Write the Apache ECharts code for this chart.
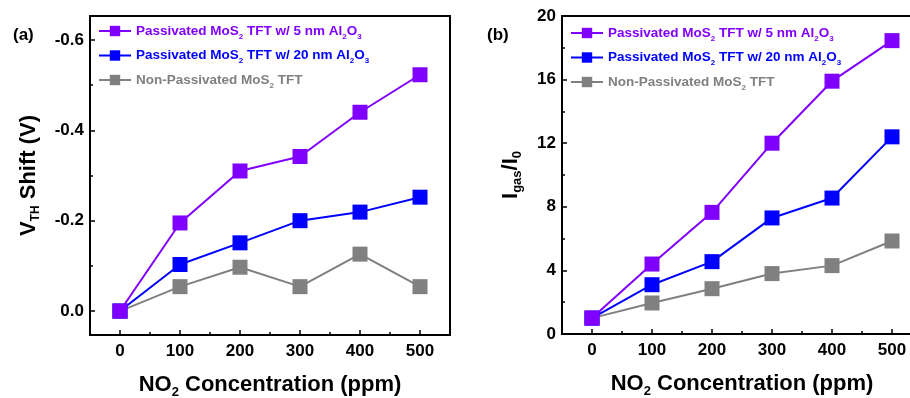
<!DOCTYPE html>
<html>
<head>
<meta charset="utf-8">
<script src="https://cdn.jsdelivr.net/npm/echarts@6/dist/echarts.min.js"></script>
<style>
  html, body { margin: 0; padding: 0; background: #fff; }
  #myChart { width: 910px; height: 398px; }
</style>
</head>
<body>
<div id="myChart"></div>
<script>
// NO2 concentration (ppm) on the x axis of both panels
var concentrations = [0, 100, 200, 300, 400, 500];

// (a) threshold voltage shift (V)
var vthPass5 = [0.0, -0.195, -0.31, -0.342, -0.44, -0.523];
var vthPass20 = [0.0, -0.103, -0.151, -0.2, -0.219, -0.252];
var vthNonPass = [0.0, -0.054, -0.097, -0.054, -0.126, -0.054];

// (b) response Igas/I0
var respPass5 = [1.0, 4.4, 7.65, 12.0, 15.9, 18.45];
var respPass20 = [1.0, 3.1, 4.55, 7.3, 8.55, 12.4];
var respNonPass = [1.0, 1.95, 2.85, 3.8, 4.3, 5.85];

// tick labels
var xTicks = [0, 100, 200, 300, 400, 500];
var xMinorTicks = [-50, 50, 150, 250, 350, 450];
var vthTicks = [-0.6, -0.4, -0.2, 0.0];
var vthMinorTicks = [-0.5, -0.3, -0.1];
var respTicks = [0, 4, 8, 12, 16, 20];
var respMinorTicks = [2, 6, 10, 14, 18];

var names = [
  'Passivated MoS2 TFT w/ 5 nm Al2O3',
  'Passivated MoS2 TFT w/ 20 nm Al2O3',
  'Non-Passivated MoS2 TFT'
];
var colors = ['#8000ff', '#0000ff', '#808080'];

// turn two value lists into [x, y] pairs
function pairs(xs, ys) {
  return xs.map(function (x, i) { return [x, ys[i]]; });
}

var FONT = 'Liberation Sans, Arial, sans-serif';

function legendText(name) {
  var k = names.indexOf(name);
  var s = ['sp', 'sb', 'sg'][k];
  if (k === 0) return 'Passivated MoS{' + s + '|2} TFT w/ 5 nm Al{' + s + '|2}O{' + s + '|3}';
  if (k === 1) return 'Passivated MoS{' + s + '|2} TFT w/ 20 nm Al{' + s + '|2}O{' + s + '|3}';
  return 'Non-Passivated MoS{' + s + '|2} TFT';
}

function subStyle(c) {
  return { color: c, fontSize: 8, fontWeight: 'bold', fontFamily: FONT, padding: [11, 0, 0, 0] };
}

function makeLegend(left, top) {
  return {
    left: left,
    top: top,
    orient: 'vertical',
    itemGap: 8,
    itemWidth: 32,
    itemHeight: 13,
    data: names.map(function (n, i) {
      return { name: n, textStyle: { color: colors[i] } };
    }),
    formatter: legendText,
    textStyle: {
      fontSize: 13.5, fontWeight: 'bold', fontFamily: FONT,
      rich: { sp: subStyle(colors[0]), sb: subStyle(colors[1]), sg: subStyle(colors[2]) }
    }
  };
}

function xAxisDef(gridIndex) {
  return [{
    type: 'value', gridIndex: gridIndex, position: 'bottom', min: -50, max: 550,
    axisLine: { onZero: false, lineStyle: { color: '#000', width: 2 } },
    axisTick: { inside: true, length: 5, customValues: xTicks, lineStyle: { width: 1.5 } },
    axisLabel: { customValues: xTicks, color: '#000', fontSize: 17, fontWeight: 'bold', fontFamily: FONT, margin: 8 },
    splitLine: { show: false },
    name: '{b|NO}{s|2}{b| Concentration (ppm)}',
    nameLocation: 'middle',
    nameGap: 35,
    nameTextStyle: {
      rich: {
        b: { fontSize: 22, fontWeight: 'bold', fontFamily: FONT, color: '#000' },
        s: { fontSize: 13, fontWeight: 'bold', fontFamily: FONT, color: '#000', padding: [16, 0, 0, 0] }
      }
    }
  }, {
    // minor ticks only
    type: 'value', gridIndex: gridIndex, position: 'bottom', min: -50, max: 550,
    axisLine: { show: false, onZero: false },
    axisTick: { inside: true, length: 3, customValues: xMinorTicks, lineStyle: { width: 1.5, color: '#000' } },
    axisLabel: { show: false },
    splitLine: { show: false }
  }];
}

var lineSeries = function (name, i, xIdx, yIdx, data) {
  return {
    name: name,
    type: 'line',
    xAxisIndex: xIdx,
    yAxisIndex: yIdx,
    data: data,
    z: 5 - i,
    symbol: 'rect',
    symbolSize: 15,
    lineStyle: { color: colors[i], width: 2 },
    itemStyle: { color: colors[i] },
    emphasis: { disabled: true }
  };
};

var myChart = echarts.init(document.getElementById('myChart'));

var option = {
  animation: false,
  backgroundColor: '#fff',
  title: [
    { text: '(a)', left: 8, top: 22, textStyle: { fontSize: 17, fontWeight: 'bold', fontFamily: FONT, color: '#000' } },
    { text: '(b)', left: 482, top: 22, textStyle: { fontSize: 17, fontWeight: 'bold', fontFamily: FONT, color: '#000' } }
  ],
  legend: [makeLegend(93, 19), makeLegend(565, 21)],
  grid: [
    { left: 90, right: 460, top: 16, bottom: 63, show: true, borderColor: '#000', borderWidth: 2, outerBoundsMode: 'none' },
    { left: 562, right: -12, top: 16, bottom: 64, show: true, borderColor: '#000', borderWidth: 2, outerBoundsMode: 'none' }
  ],
  xAxis: xAxisDef(0).concat(xAxisDef(1)),
  yAxis: [{
    type: 'value', gridIndex: 0, position: 'left', inverse: true, min: -0.653, max: 0.053,
    axisLine: { onZero: false, lineStyle: { color: '#000', width: 2 } },
    axisTick: { inside: true, length: 5, customValues: vthTicks, lineStyle: { width: 1.5 } },
    axisLabel: {
      customValues: vthTicks, color: '#000', fontSize: 17, fontWeight: 'bold', fontFamily: FONT, margin: 6,
      formatter: function (v) { return v.toFixed(1); }
    },
    splitLine: { show: false },
    name: '{b|V}{s|TH}{b| Shift (V)}',
    nameLocation: 'middle',
    nameGap: 48,
    nameTextStyle: {
      rich: {
        b: { fontSize: 22, fontWeight: 'bold', fontFamily: FONT, color: '#000' },
        s: { fontSize: 12, fontWeight: 'bold', fontFamily: FONT, color: '#000', padding: [14, 0, 0, 0] }
      }
    }
  }, {
    type: 'value', gridIndex: 0, position: 'left', inverse: true, min: -0.653, max: 0.053,
    axisLine: { show: false, onZero: false },
    axisTick: { inside: true, length: 3, customValues: vthMinorTicks, lineStyle: { width: 1.5, color: '#000' } },
    axisLabel: { show: false },
    splitLine: { show: false }
  }, {
    type: 'value', gridIndex: 1, position: 'left', min: 0, max: 20,
    axisLine: { onZero: false, lineStyle: { color: '#000', width: 2 } },
    axisTick: { inside: true, length: 5, customValues: respTicks, lineStyle: { width: 1.5 } },
    axisLabel: { customValues: respTicks, color: '#000', fontSize: 17, fontWeight: 'bold', fontFamily: FONT, margin: 6 },
    splitLine: { show: false },
    name: '{b|I}{s|gas}{b|/I}{s|0}',
    nameLocation: 'middle',
    nameGap: 38,
    nameTextStyle: {
      rich: {
        b: { fontSize: 22, fontWeight: 'bold', fontFamily: FONT, color: '#000' },
        s: { fontSize: 13, fontWeight: 'bold', fontFamily: FONT, color: '#000', padding: [14, 0, 0, 0] }
      }
    }
  }, {
    type: 'value', gridIndex: 1, position: 'left', min: 0, max: 20,
    axisLine: { show: false, onZero: false },
    axisTick: { inside: true, length: 3, customValues: respMinorTicks, lineStyle: { width: 1.5, color: '#000' } },
    axisLabel: { show: false },
    splitLine: { show: false }
  }],
  series: [
    lineSeries(names[0], 0, 0, 0, pairs(concentrations, vthPass5)),
    lineSeries(names[1], 1, 0, 0, pairs(concentrations, vthPass20)),
    lineSeries(names[2], 2, 0, 0, pairs(concentrations, vthNonPass)),
    lineSeries(names[0], 0, 2, 2, pairs(concentrations, respPass5)),
    lineSeries(names[1], 1, 2, 2, pairs(concentrations, respPass20)),
    lineSeries(names[2], 2, 2, 2, pairs(concentrations, respNonPass))
  ]
};

myChart.setOption(option);
</script>
</body>
</html>
